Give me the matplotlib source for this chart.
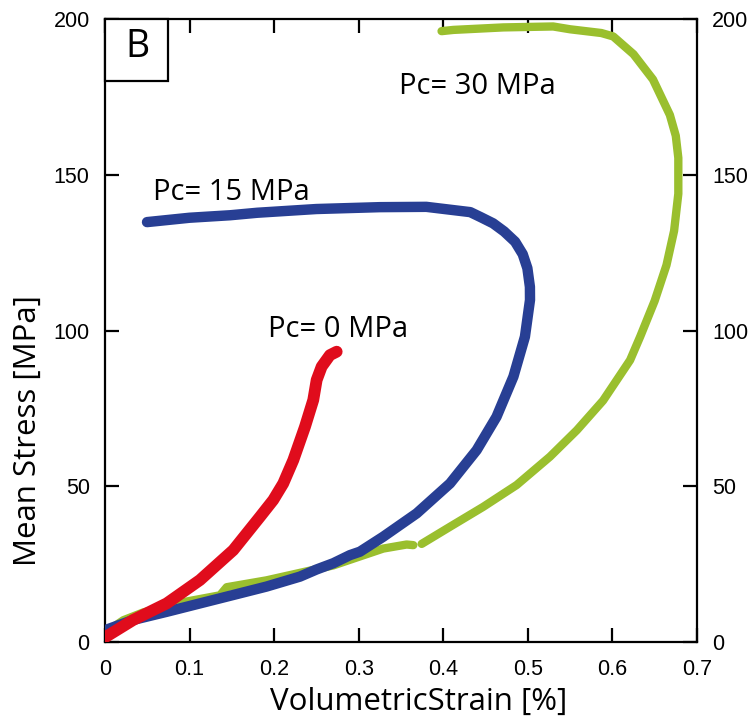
import numpy as np
import matplotlib
matplotlib.use("Agg")
import matplotlib.pyplot as plt
from matplotlib.patches import Rectangle

# Pc = 0 MPa (red)
strain_0 = [0.0, 0.0335, 0.073, 0.1123, 0.1517, 0.1833, 0.199, 0.2108, 0.2227, 0.2365, 0.2463,
            0.2503, 0.2562, 0.266, 0.274]
stress_0 = [1.5, 7.1, 12.4, 19.9, 29.5, 40.2, 45.6, 50.9, 58.4, 69.1, 77.7,
            84.1, 88.4, 92.1, 93.2]

# Pc = 15 MPa (blue)
strain_15 = [0.0, 0.0335, 0.073, 0.1123, 0.1517, 0.191, 0.2306, 0.2503, 0.27, 0.2897, 0.3015,
             0.329, 0.3686, 0.408, 0.4395, 0.463, 0.483, 0.4966, 0.5026, 0.5025, 0.4995,
             0.494, 0.485, 0.472, 0.459, 0.445, 0.432, 0.380, 0.325, 0.25, 0.18, 0.148,
             0.10, 0.0497]
stress_15 = [3.8, 7.1, 9.7, 12.4, 15.1, 17.8, 21.0, 23.3, 25.3, 27.9, 29.0,
             33.8, 41.3, 50.9, 61.6, 72.3, 85.2, 98.0, 109.8, 114.0, 120.0,
             124.5, 128.5, 131.8, 134.4, 136.3, 138.0, 139.7, 139.6, 139.0, 137.8, 137.0,
             136.2, 134.8]

# Pc = 30 MPa (green)
strain_30 = [0.0, 0.0217, 0.0453, 0.0926, 0.136, 0.144, 0.191, 0.27, 0.329, 0.3567, 0.3646, np.nan,
             0.3745, 0.408, 0.4473, 0.4868, 0.5262, 0.558, 0.589, 0.621, 0.633, 0.65, 0.664,
             0.673, 0.678, 0.678, 0.675, 0.668, 0.648, 0.625, 0.601, 0.587, 0.55, 0.53,
             0.471, 0.412, 0.398]
stress_30 = [3.0, 7.0, 9.5, 12.8, 15.0, 17.6, 19.8, 24.6, 30.0, 31.3, 31.1, np.nan,
             31.5, 37.0, 43.4, 50.4, 59.5, 68.0, 77.5, 90.5, 98.1, 109.5, 121.0,
             132.0, 143.9, 155.4, 162.5, 169.2, 180.6, 188.7, 194.4, 195.5, 196.7, 197.6,
             197.3, 196.5, 196.1]

labels = ["Pc= 0 MPa", "Pc= 15 MPa", "Pc= 30 MPa"]
xticks = [0, 0.1, 0.2, 0.3, 0.4, 0.5, 0.6, 0.7]
xticklabels = ["0", "0.1", "0.2", "0.3", "0.4", "0.5", "0.6", "0.7"]
yticks = [0, 50, 100, 150, 200]

fig = plt.figure(figsize=(7.51, 7.28), dpi=100)
ax = fig.add_axes([0.1398, 0.1181, 0.928 - 0.1398, 0.9739 - 0.1181])

kw = dict(solid_capstyle="round", solid_joinstyle="round")
ax.plot(strain_30, stress_30, color="#9abf2e", lw=6.0, zorder=2, **kw)
ax.plot(strain_15, stress_15, color="#283f94", lw=7.5, zorder=3, **kw)
ax.plot(strain_0, stress_0, color="#e00c1c", lw=8.5, zorder=4, **kw)

ax.set_xlim(0, 0.7)
ax.set_ylim(0, 200)
ax.set_xticks(xticks)
ax.set_xticklabels(xticklabels)
ax.set_yticks(yticks)
for s in ax.spines.values():
    s.set_linewidth(1.6)
ax.tick_params(direction="in", length=10, width=1.6, top=True, right=True,
               labelright=True, labelsize=15.5, pad=11)
for t in ax.xaxis.get_major_ticks():
    t.label1.set_family("Liberation Sans")
for t in ax.yaxis.get_major_ticks():
    t.label1.set_family("Liberation Sans")
    t.label2.set_family("Liberation Sans")
ax.xaxis.set_tick_params(pad=12)

lf = "Open Sans"
ax.set_xlabel("VolumetricStrain [%]", family=lf, fontsize=22.5)
ax.set_ylabel("Mean Stress [MPa]", family=lf, fontsize=22.5)
ax.xaxis.set_label_coords(0.529, -0.072)
ax.yaxis.set_label_coords(-0.105, 0.339)

ax.text(0.193, 98.0, labels[0], family=lf, fontsize=21, va="baseline", ha="left")
ax.text(0.057, 142.0, labels[1], family=lf, fontsize=21, va="baseline", ha="left")
ax.text(0.348, 176.0, labels[2], family=lf, fontsize=21, va="baseline", ha="left")

ax.add_patch(Rectangle((0, 0.9005), 0.1064, 0.0995, transform=ax.transAxes,
                       fc="white", ec="black", lw=1.6, zorder=5, clip_on=False))
ax.text(0.054, 0.955, "B", transform=ax.transAxes, family=lf, fontsize=27,
        ha="center", va="center", zorder=6)

fig.savefig("out.png", dpi=100)
